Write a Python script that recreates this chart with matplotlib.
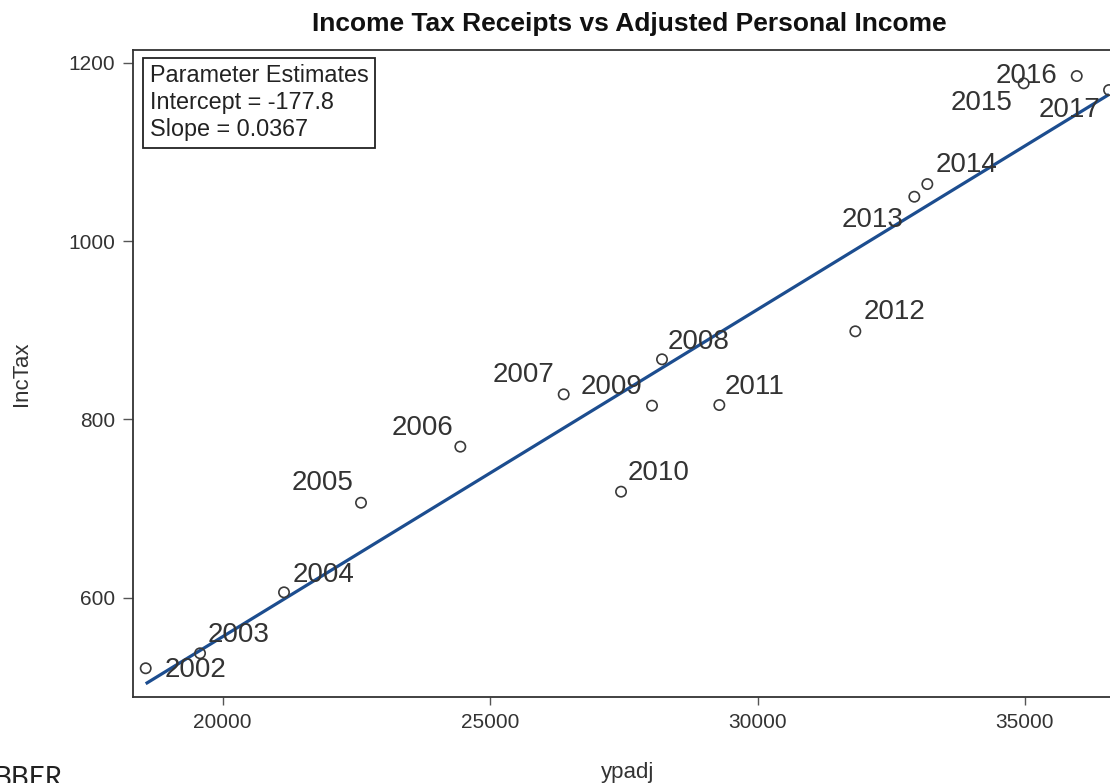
import matplotlib.pyplot as plt
import numpy as np

plt.rcParams['font.family'] = ['Liberation Sans', 'DejaVu Sans']

# values
years = list(range(2002, 2018))
ypadj = [18560, 19576, 21146, 22586, 24443, 26376, 28214, 28027,
         27448, 29286, 31829, 32932, 33175, 34977, 35969, 36573]
inctax = [520.7, 537.5, 605.9, 706.4, 769.3, 828.0, 867.3, 815.3,
          718.8, 816.0, 898.7, 1049.7, 1063.9, 1176.9, 1185.1, 1169.4]
intercept = -177.8
slope = 0.0367

x_ticks = [20000, 25000, 30000, 35000]
y_ticks = [600, 800, 1000, 1200]

# where each year label sits relative to its point: (ha, dx px, dy px)
label_pos = {
    2002: ('left', 19, -2), 2003: ('left', 8, 18), 2004: ('left', 9, 17),
    2005: ('right', -8, 20), 2006: ('right', -7, 19), 2007: ('right', -9, 19),
    2008: ('left', 6, 17), 2009: ('right', -10, 19), 2010: ('left', 7, 19),
    2011: ('left', 5, 18), 2012: ('left', 8, 19), 2013: ('right', -11, -23),
    2014: ('left', 8, 19), 2015: ('right', -11, -20), 2016: ('right', -19, 0),
    2017: ('right', -9, -20),
}

W, H = 1110, 783
fig = plt.figure(figsize=(W / 100, H / 100), dpi=100)
ax = fig.add_axes([133.3 / W, 1 - 696.7 / H, (1121.4 - 133.3) / W, (696.7 - 50) / H])

frame = '#333333'
for s in ax.spines.values():
    s.set_color(frame)
    s.set_linewidth(1.3)

# fit line over the data range
xs = np.array([min(ypadj), max(ypadj)])
ax.plot(xs, intercept + slope * xs, color='#1C4D8F', lw=2.3, zorder=2,
        solid_capstyle='butt')

ax.scatter(ypadj, inctax, s=55, facecolors='none', edgecolors='#3a3a3a',
           linewidths=1.2, zorder=3)

for yr, xv, yv in zip(years, ypadj, inctax):
    ha, dx, dy = label_pos[yr]
    ax.annotate(str(yr), (xv, yv), xytext=(dx, dy), textcoords='offset pixels',
                ha=ha, va='center', fontsize=20, color='#333333', zorder=4)

ax.set_xlim(18328, 36804)
ax.set_ylim(488.8, 1214.3)
ax.set_xticks(x_ticks)
ax.set_yticks(y_ticks)
ax.tick_params(axis='x', length=6, width=1, color='#555555', labelsize=15,
               labelcolor='#333333', pad=6)
ax.tick_params(axis='y', length=7, width=1, color='#555555', labelsize=15,
               labelcolor='#333333', pad=6)
ax.set_xlabel('ypadj', fontsize=16, color='#333333', labelpad=21)
ax.set_ylabel('IncTax', fontsize=16, color='#333333', labelpad=26)

ax.text(0.0169, 0.978,
        'Parameter Estimates\nIntercept = -177.8\nSlope = 0.0367',
        transform=ax.transAxes, ha='left', va='top', fontsize=16.8,
        color='#222222', linespacing=1.22,
        bbox=dict(boxstyle='square,pad=0.28', fc='white', ec='#222222', lw=1.3))

fig.text(629 / W, 1 - 24 / H, 'Income Tax Receipts vs Adjusted Personal Income',
         ha='center', va='center', fontsize=19, fontweight='bold', color='#111111')

fig.text(63 / W, 1 - 766 / H, 'BBER', ha='right', va='top', fontsize=20,
         family=['Lato', 'DejaVu Sans'], color='#222222')

fig.savefig('out.png', dpi=100)
